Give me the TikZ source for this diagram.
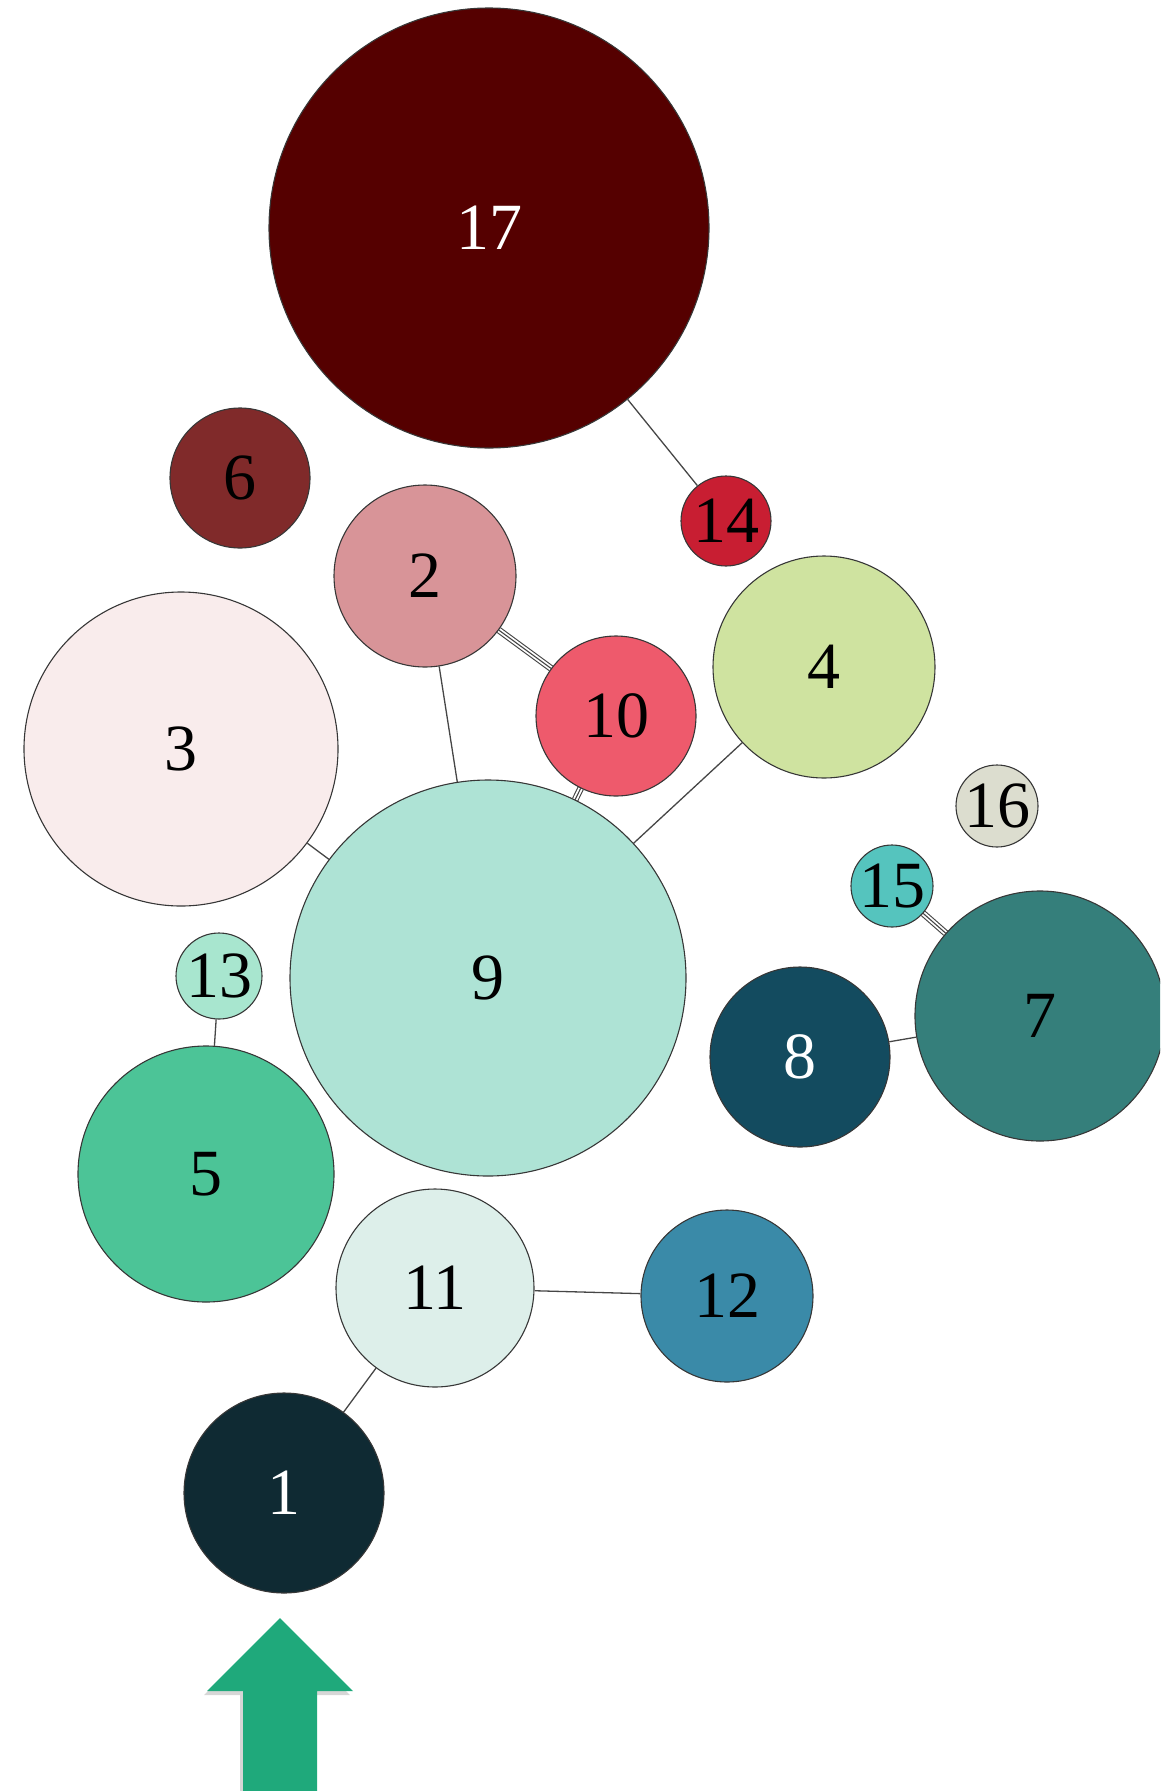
\documentclass[tikz,border=0pt]{standalone}
\usepackage{fontspec}
\setmainfont{Liberation Serif}
\usetikzlibrary{backgrounds}
\definecolor{c1}{RGB}{15,42,51}
\definecolor{c2}{RGB}{216,148,152}
\definecolor{c3}{RGB}{249,236,236}
\definecolor{c4}{RGB}{207,227,160}
\definecolor{c5}{RGB}{76,196,151}
\definecolor{c6}{RGB}{128,42,42}
\definecolor{c7}{RGB}{53,127,123}
\definecolor{c8}{RGB}{19,75,95}
\definecolor{c9}{RGB}{174,227,213}
\definecolor{c10}{RGB}{238,90,108}
\definecolor{c11}{RGB}{221,239,234}
\definecolor{c12}{RGB}{58,138,168}
\definecolor{c13}{RGB}{168,230,207}
\definecolor{c14}{RGB}{200,30,50}
\definecolor{c15}{RGB}{85,196,190}
\definecolor{c16}{RGB}{220,221,207}
\definecolor{c17}{RGB}{85,0,0}
\definecolor{arrowc}{RGB}{31,169,123}
\definecolor{edgec}{RGB}{55,55,55}
\definecolor{linkc}{RGB}{70,70,70}
\begin{document}
\begin{tikzpicture}[x=1pt,y=-1pt,
  ball/.style={circle,draw=edgec,line width=1.1pt,inner sep=0pt,
    font=\fontsize{66}{70}\selectfont,text=black},
  link/.style={draw=linkc,line width=1.3pt},
  tri/.style={preaction={draw=linkc,line width=6.8pt},
    preaction={draw=white,line width=4.6pt},
    draw=linkc,line width=1.1pt}]
\useasboundingbox (0,0) rectangle (1160,1791);
\clip (0,0) rectangle (1160,1791);
% nodes
\node[ball,fill=c17,minimum size=440pt,text=white] (n17) at (489,228) {17};
\node[ball,fill=c6,minimum size=140pt] (n6) at (240,478) {6};
\node[ball,fill=c14,minimum size=90pt] (n14) at (726,521) {14};
\node[ball,fill=c2,minimum size=182pt] (n2) at (425,576) {2};
\node[ball,fill=c3,minimum size=314pt] (n3) at (181,749) {3};
\node[ball,fill=c10,minimum size=160pt] (n10) at (616,716) {10};
\node[ball,fill=c4,minimum size=222pt] (n4) at (824,667) {4};
\node[ball,fill=c16,minimum size=82pt] (n16) at (997,806) {16};
\node[ball,fill=c15,minimum size=82pt] (n15) at (892,886) {15};
\node[ball,fill=c9,minimum size=396pt] (n9) at (488,978) {9};
\node[ball,fill=c13,minimum size=86pt] (n13) at (219,976) {13};
\node[ball,fill=c7,minimum size=250pt] (n7) at (1040,1016) {7};
\node[ball,fill=c8,minimum size=180pt,text=white] (n8) at (800,1057) {8};
\node[ball,fill=c5,minimum size=256pt] (n5) at (206,1174) {5};
\node[ball,fill=c11,minimum size=198pt] (n11) at (435,1288) {11};
\node[ball,fill=c12,minimum size=172pt] (n12) at (727,1296) {12};
\node[ball,fill=c1,minimum size=200pt,text=white] (n1) at (284,1493) {1};
% connectors
\begin{pgfonlayer}{background}
\draw[link] (n17) -- (n14);
\draw[link] (n2) -- (n9);
\draw[link] (n3) -- (n9);
\draw[link] (n4) -- (n9);
\draw[link] (n13) -- (n5);
\draw[link] (n8) -- (n7);
\draw[link] (n11) -- (n12);
\draw[link] (n11) -- (n1);
\draw[tri] (n2) -- (n10);
\draw[tri] (n10) -- (n9);
\draw[tri] (n15) -- (n7);
\end{pgfonlayer}
% arrow
\fill[black!20,opacity=0.8] (277,1622) -- (350,1695) -- (314,1695) -- (314,1800) -- (240,1800) -- (240,1695) -- (204,1695) -- cycle;
\fill[arrowc] (280,1618) -- (353,1691) -- (317,1691) -- (317,1800) -- (243,1800) -- (243,1691) -- (207,1691) -- cycle;
\end{tikzpicture}
\end{document}
